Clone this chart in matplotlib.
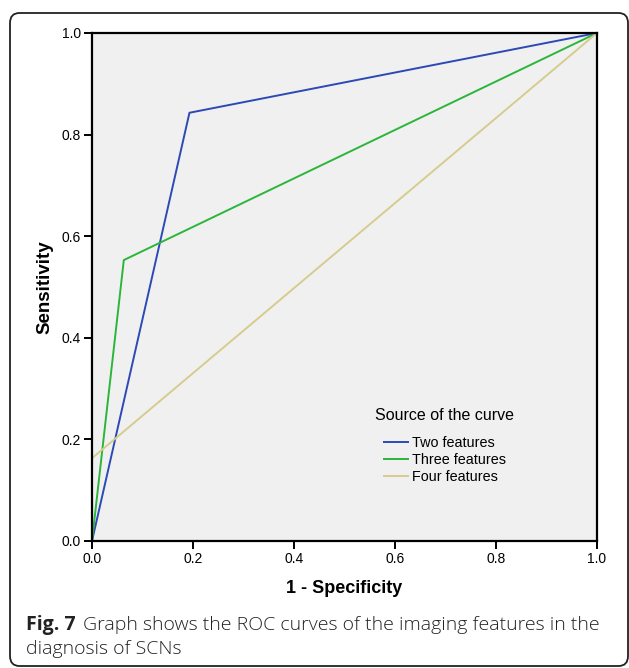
import matplotlib
matplotlib.use("Agg")
import matplotlib.pyplot as plt
from matplotlib.patches import FancyBboxPatch
from matplotlib.offsetbox import TextArea, HPacker, AnchoredOffsetbox

# Data
two_x = [0.0, 0.193, 1.0]
two_y = [0.0, 0.843, 1.0]
three_x = [0.0, 0.063, 1.0]
three_y = [0.0, 0.553, 1.0]
four_x = [0.0, 0.0, 1.0]
four_y = [0.0, 0.163, 1.0]
series_labels = ["Two features", "Three features", "Four features"]
ticks = [0.0, 0.2, 0.4, 0.6, 0.8, 1.0]
tick_labels = ["0.0", "0.2", "0.4", "0.6", "0.8", "1.0"]

W, H = 629, 668
fig = plt.figure(figsize=(W / 100, H / 100), dpi=100)
fig.patch.set_facecolor("white")

# rounded frame
frame = FancyBboxPatch((10 / W, 2 / H), 618 / W, 653 / H,
                       boxstyle="round,pad=0,rounding_size=0.015",
                       transform=fig.transFigure, fill=False,
                       edgecolor="#222222", linewidth=1.3, clip_on=False)
fig.patches.append(frame)

ax = fig.add_axes([92 / W, 1 - 541 / H, (597 - 92) / W, (541 - 33) / H])
ax.set_facecolor("#f0f0f0")
ax.set_xlim(0, 1)
ax.set_ylim(0, 1)

ax.plot(two_x, two_y, color="#2c49b5", lw=1.4, label=series_labels[0])
ax.plot(three_x, three_y, color="#2bb53a", lw=1.4, label=series_labels[1])
ax.plot(four_x, four_y, color="#d6cc8e", lw=1.4, label=series_labels[2])

for s in ax.spines.values():
    s.set_linewidth(1.6)
    s.set_color("black")

ax.set_xticks(ticks)
ax.set_xticklabels(tick_labels)
ax.set_yticks(ticks)
ax.set_yticklabels(tick_labels)
ax.tick_params(direction="out", length=6, width=1.4, labelsize=10, pad=2)
for lab in ax.get_xticklabels() + ax.get_yticklabels():
    lab.set_fontfamily("Liberation Sans")

ax.set_xlabel("1 - Specificity", fontsize=13, fontweight="bold",
              fontfamily="Liberation Sans", labelpad=10)
ax.set_ylabel("Sensitivity", fontsize=13.5, fontweight="bold",
              fontfamily="Liberation Sans", labelpad=6)

# legend
fig.text(375 / W, 1 - 415 / H, "Source of the curve", fontsize=11.5,
         fontfamily="Liberation Sans", va="center", ha="left")
leg = ax.legend(loc="upper left", bbox_to_anchor=(384 / W, 1 - 436 / H),
                bbox_transform=fig.transFigure, frameon=False, borderpad=0,
                borderaxespad=0, handlelength=1.67, handletextpad=0.3,
                labelspacing=0.2,
                prop={"family": "Liberation Sans", "size": 10.4})

# caption
t1 = TextArea("Fig. 7", textprops=dict(fontsize=14, fontweight="bold",
                                        fontfamily="Open Sans", color="#222222"))
t2 = TextArea("Graph shows the ROC curves of the imaging features in the",
              textprops=dict(fontsize=14, fontfamily="Open Sans",
                             fontweight="light", color="#222222"))
box = HPacker(children=[t1, t2], pad=0, sep=5, align="baseline")
ab = AnchoredOffsetbox(loc="lower left", child=box, pad=0, frameon=False,
                       bbox_to_anchor=(26 / W, 1 - 635 / H),
                       bbox_transform=fig.transFigure, borderpad=0)
fig.add_artist(ab)
fig.text(26 / W, 1 - 654 / H, "diagnosis of SCNs", fontsize=14,
         fontfamily="Open Sans", fontweight="light", color="#222222",
         va="baseline")

fig.savefig("out.png", dpi=100)
